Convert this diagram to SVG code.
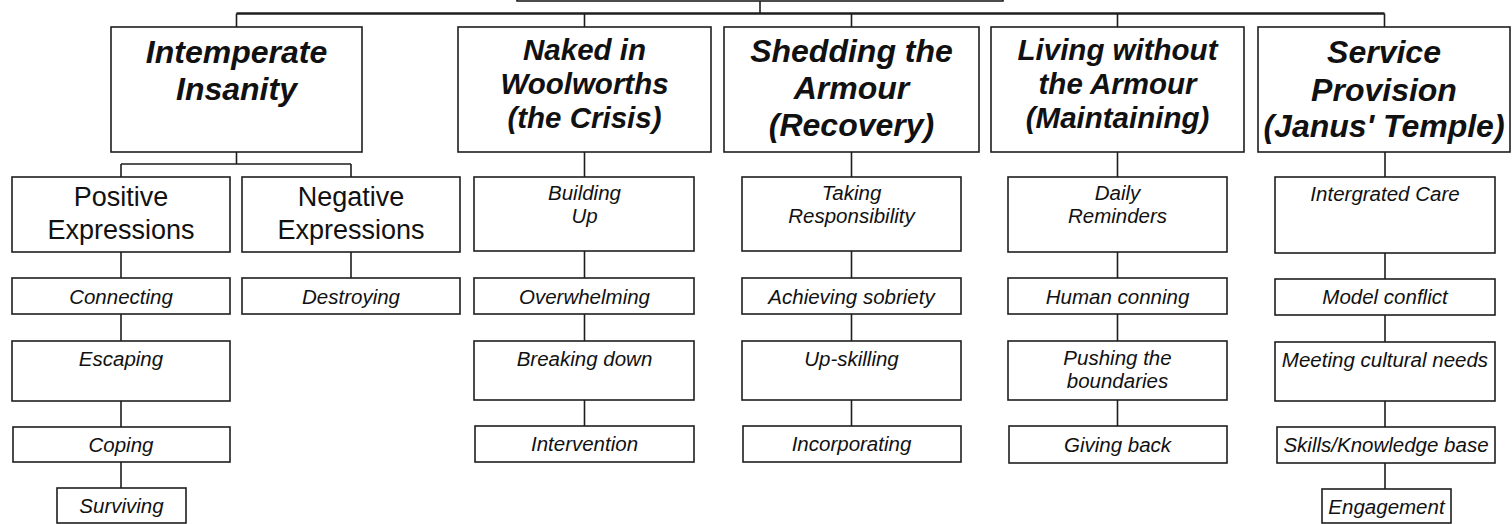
<svg xmlns="http://www.w3.org/2000/svg" width="1512" height="524" viewBox="0 0 1512 524">
<style>
.box{fill:#fff;stroke:#1e1e1e;stroke-width:1.6}
.ln{fill:none;stroke:#1e1e1e;stroke-width:1.6}
.top{fill:none;stroke:#1e1e1e;stroke-width:2.4}
text{fill:#111;text-anchor:middle;font-family:"Liberation Sans",Arial,sans-serif}
.t1{font-size:32px;font-weight:bold;font-style:italic}
.t1s{font-size:29.5px;font-weight:bold;font-style:italic}
.t2{font-size:27px}
.t3{font-size:20.5px;font-style:italic}
</style>
<rect width="1512" height="524" fill="#fff"/>
<g id="connectors">
<path class="ln" d="M760,1 V13.5"/>
<path class="top" d="M236.5,13.5 H1384.5"/>
<path class="ln" d="M236.5,13.5 V27 M584.5,13.5 V27 M851.5,13.5 V27 M1117.5,13.5 V27 M1384.5,13.5 V27"/>
<path class="ln" d="M236.5,152 V164 M121,164 H351 M121,164 V177 M351,164 V177"/>
<path class="ln" d="M121,252 V278 M121,314 V341 M121,401 V427 M121,462 V488 M351,252 V278"/>
<path class="ln" d="M584.5,152 V177 M584.5,251 V278 M584.5,314 V341 M584.5,400 V426"/>
<path class="ln" d="M851.5,152 V177 M851.5,251 V278 M851.5,314 V341 M851.5,400 V426"/>
<path class="ln" d="M1117.5,152 V177 M1117.5,252 V278 M1117.5,314 V341 M1117.5,400 V426"/>
<path class="ln" d="M1385,152 V177 M1385,253 V279 M1385,315 V342 M1385,401 V427 M1385,463 V489"/>
</g>
<g id="root"><rect class="box" x="517" y="-30" width="486" height="31"/></g>
<g id="n-intemperate"><rect class="box" x="111" y="27" width="251" height="125"/>
<text class="t1" x="236.5" y="63">Intemperate</text><text class="t1" x="236.5" y="100">Insanity</text></g>
<g id="n-naked"><rect class="box" x="458" y="27" width="253" height="125"/>
<text class="t1s" x="584.5" y="60">Naked in</text><text class="t1s" x="584.5" y="94">Woolworths</text><text class="t1s" x="584.5" y="128">(the Crisis)</text></g>
<g id="n-shedding"><rect class="box" x="724" y="27" width="255" height="125"/>
<text class="t1" x="851.5" y="62">Shedding the</text><text class="t1" x="851.5" y="99">Armour</text><text class="t1" x="851.5" y="136">(Recovery)</text></g>
<g id="n-living"><rect class="box" x="991" y="27" width="253" height="125"/>
<text class="t1s" x="1117.5" y="60">Living without</text><text class="t1s" x="1117.5" y="94">the Armour</text><text class="t1s" x="1117.5" y="128">(Maintaining)</text></g>
<g id="n-service"><rect class="box" x="1258" y="27" width="252" height="125"/>
<text class="t1" x="1384" y="63">Service</text><text class="t1" x="1384" y="101">Provision</text><text class="t1" x="1384" y="137">(Janus' Temple)</text></g>
<g id="n-positive"><rect class="box" x="12" y="177" width="218" height="75"/>
<text class="t2" x="121" y="206">Positive</text><text class="t2" x="121" y="239">Expressions</text></g>
<g id="n-negative"><rect class="box" x="242" y="177" width="218" height="75"/>
<text class="t2" x="351" y="206">Negative</text><text class="t2" x="351" y="239">Expressions</text></g>
<g id="n-connecting"><rect class="box" x="12" y="278" width="218" height="36"/><text class="t3" x="121" y="303.5">Connecting</text></g>
<g id="n-destroying"><rect class="box" x="242" y="278" width="218" height="36"/><text class="t3" x="351" y="303.5">Destroying</text></g>
<g id="n-escaping"><rect class="box" x="12" y="341" width="218" height="60"/><text class="t3" x="121" y="366">Escaping</text></g>
<g id="n-coping"><rect class="box" x="13" y="427" width="217" height="35"/><text class="t3" x="121" y="452">Coping</text></g>
<g id="n-surviving"><rect class="box" x="57" y="488" width="129" height="35"/><text class="t3" x="121.5" y="513">Surviving</text></g>
<g id="n-building"><rect class="box" x="474" y="177" width="220" height="74"/>
<text class="t3" x="584.5" y="200">Building</text><text class="t3" x="584.5" y="223">Up</text></g>
<g id="n-overwhelming"><rect class="box" x="474" y="278" width="220" height="36"/><text class="t3" x="584.5" y="303.5">Overwhelming</text></g>
<g id="n-breaking"><rect class="box" x="474" y="341" width="220" height="59"/><text class="t3" x="584.5" y="366">Breaking down</text></g>
<g id="n-intervention"><rect class="box" x="475" y="426" width="219" height="36"/><text class="t3" x="584.5" y="451">Intervention</text></g>
<g id="n-taking"><rect class="box" x="742" y="177" width="219" height="74"/>
<text class="t3" x="851.5" y="200">Taking</text><text class="t3" x="851.5" y="223">Responsibility</text></g>
<g id="n-achieving"><rect class="box" x="742" y="278" width="219" height="36"/><text class="t3" x="851.5" y="303.5">Achieving sobriety</text></g>
<g id="n-upskilling"><rect class="box" x="742" y="341" width="219" height="59"/><text class="t3" x="851.5" y="366">Up-skilling</text></g>
<g id="n-incorporating"><rect class="box" x="743" y="426" width="218" height="36"/><text class="t3" x="851.5" y="451">Incorporating</text></g>
<g id="n-daily"><rect class="box" x="1008" y="177" width="219" height="75"/>
<text class="t3" x="1117.5" y="200">Daily</text><text class="t3" x="1117.5" y="223">Reminders</text></g>
<g id="n-human"><rect class="box" x="1008" y="278" width="219" height="36"/><text class="t3" x="1117.5" y="303.5">Human conning</text></g>
<g id="n-pushing"><rect class="box" x="1008" y="341" width="219" height="59"/>
<text class="t3" x="1117.5" y="365">Pushing the</text><text class="t3" x="1117.5" y="388">boundaries</text></g>
<g id="n-giving"><rect class="box" x="1009" y="426" width="218" height="37"/><text class="t3" x="1117.5" y="452">Giving back</text></g>
<g id="n-integrated"><rect class="box" x="1275" y="177" width="220" height="76"/><text class="t3" x="1385" y="201">Intergrated Care</text></g>
<g id="n-model"><rect class="box" x="1275" y="279" width="220" height="36"/><text class="t3" x="1385" y="304">Model conflict</text></g>
<g id="n-meeting"><rect class="box" x="1275" y="342" width="220" height="59"/><text class="t3" x="1385" y="367">Meeting cultural needs</text></g>
<g id="n-skills"><rect class="box" x="1277" y="427" width="218" height="36"/><text class="t3" x="1386" y="452">Skills/Knowledge base</text></g>
<g id="n-engagement"><rect class="box" x="1322" y="489" width="129" height="34"/><text class="t3" x="1386.5" y="514">Engagement</text></g>
</svg>
